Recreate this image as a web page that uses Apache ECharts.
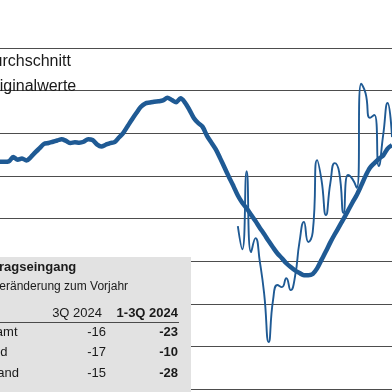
<!DOCTYPE html>
<html>
<head>
<meta charset="utf-8">
<script src="https://cdn.jsdelivr.net/npm/echarts@6/dist/echarts.min.js"></script>
<style>
html,body{margin:0;padding:0;background:#fff;}
#chart{width:392px;height:392px;}
</style>
</head>
<body>
<div id="chart"></div>
<script>
// ---- data ----
const seriesNames = ['Durchschnitt', 'Originalwerte'];

// 90 monthly periods
const categories = [];
(function(){ let y = 2017, m = 4; for (let i = 0; i < 90; i++) { categories.push(y + '-' + String(m).padStart(2,'0')); m++; if (m > 12) { m = 1; y++; } } })();

const movingAverage = [
  113.3,113.3,113.4,114.4,113.8,114.1,113.6,114.4,115.5,116.5,
  117.5,117.7,118.0,118.3,118.6,118.2,117.7,117.9,117.8,118.0,
  118.6,118.4,117.4,116.9,117.3,117.7,117.9,119.0,120.1,121.7,
  123.3,124.8,126.2,127.0,127.2,127.4,127.5,127.7,128.3,127.8,
  127.3,128.2,127.2,125.5,123.6,122.4,121.5,119.4,117.8,116.2,
  114.1,111.9,109.7,107.6,105.4,103.7,102.4,100.9,99.4,97.8,
  96.3,94.7,93.2,91.8,90.7,89.5,88.6,87.8,87.2,86.7,
  86.7,87.0,88.3,90.3,92.3,94.4,96.3,98.1,99.9,101.8,
  103.7,105.5,107.7,110.0,111.9,113.0,114.0,114.8,116.4,117.2
];

// original values start at period 55
const originalStart = 54;
const originalValues = [
  98.2,92.8,111.1,92.1,95.4,89.8,82.1,71.0,80.9,84.4,
  83.9,86.0,83.2,86.5,94.5,99.2,94.5,96.8,113.7,109.0,
  100.8,108.3,113.0,110.9,101.3,110.2,109.3,107.2,131.6,129.4,
  123.6,124.3,112.3,119.6,127.1,119.1
];

// table
const tableTitle = 'Auftragseingang';
const tableSubtitle = 'Veränderung zum Vorjahr';
const tableColumns = ['3Q 2024', '1-3Q 2024'];
const tableRows = ['Gesamt', 'Inland', 'Ausland'];
const tableQ3 = [-16, -17, -15];
const tableYTD = [-23, -10, -28];

// y axis
const yMin = 60, yMax = 140, yStep = 10;

// ---- build ----
const original = new Array(originalStart).fill(null).concat(originalValues);
const blue = '#1f5a94';
const font = 'Liberation Sans, Arial, sans-serif';

const g = [];
g.push({ type: 'rect', z: 10, shape: { x: 0, y: 257, width: 191, height: 135 }, style: { fill: '#e2e2e2' } });
g.push({ type: 'line', z: 11, shape: { x1: 0, y1: 322.5, x2: 179, y2: 322.5 }, style: { stroke: '#4a4a4a', lineWidth: 1 } });
function txt(s, x, y, align, bold, size) {
  g.push({ type: 'text', z: 12, x: x, y: y, style: {
    text: s, fill: '#1a1a1a', font: (bold ? 'bold ' : '') + size + 'px ' + font,
    align: align, textAlign: align, verticalAlign: 'middle', textVerticalAlign: 'middle' } });
}
txt(tableTitle, -27, 267, 'left', true, 13);
txt(tableSubtitle, -8, 287, 'left', false, 12);
txt(tableColumns[0], 102, 313, 'right', false, 13);
txt(tableColumns[1], 178, 313, 'right', true, 13);
const rowY = [332, 352.5, 373];
tableRows.forEach((r, i) => {
  txt(r, -28, rowY[i], 'left', false, 13);
  txt(String(tableQ3[i]), 106, rowY[i], 'right', false, 13);
  txt(String(tableYTD[i]), 178, rowY[i], 'right', true, 13);
});

const chart = echarts.init(document.getElementById('chart'), null, { renderer: 'canvas' });
chart.setOption({
  animation: false,
  backgroundColor: '#ffffff',
  legend: {
    orient: 'vertical', left: -54, top: 49, itemWidth: 25, itemHeight: 14, itemGap: 9,
    textStyle: { fontSize: 16, color: '#1a1a1a', fontFamily: font },
    data: seriesNames
  },
  grid: { left: 0, right: 0, top: 48, bottom: 3, containLabel: false },
  xAxis: {
    type: 'category', data: categories, boundaryGap: false,
    axisLine: { show: false }, axisTick: { show: false }, axisLabel: { show: false }, splitLine: { show: false }
  },
  yAxis: {
    type: 'value', min: yMin, max: yMax, interval: yStep,
    axisLine: { show: false }, axisTick: { show: false }, axisLabel: { show: false },
    splitLine: { show: true, lineStyle: { color: '#4d4d4d', width: 1 } }
  },
  series: [
    { name: seriesNames[0], type: 'line', data: movingAverage, smooth: 0.3, symbol: 'none',
      lineStyle: { color: blue, width: 4.5 }, itemStyle: { color: blue }, z: 3 },
    { name: seriesNames[1], type: 'line', data: original, smooth: 0.55, symbol: 'none',
      lineStyle: { color: blue, width: 1.9 }, itemStyle: { color: blue }, z: 4 }
  ],
  graphic: g
});
</script>
</body>
</html>
